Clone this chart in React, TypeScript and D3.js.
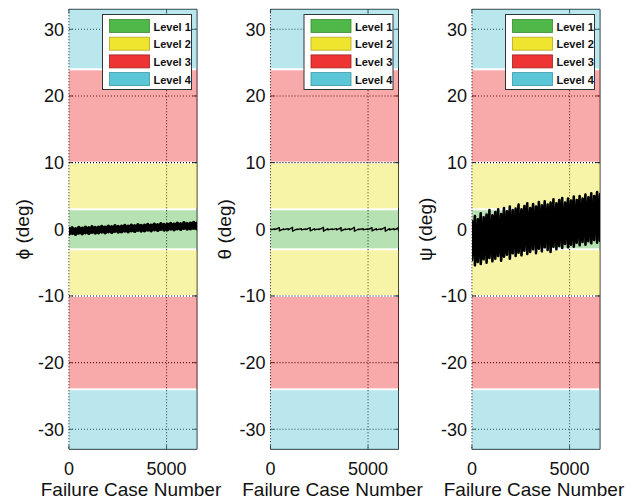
import React from "react";
import * as d3 from "d3";

const W = 640;
const H = 502;

const yTicks = [-30, -20, -10, 0, 10, 20, 30];
const xTicks = [0, 5000];
const xMax = 6561;
const yDomain = [-33, 33];

const levelNames = ["Level 1", "Level 2", "Level 3", "Level 4"];
const levelColors = ["#50b848", "#efe52e", "#ef3434", "#5ac6d6"];
const levelStrokes = ["#3a8a34", "#b0a820", "#a02020", "#3a98a8"];
// band limits (deg): [lo, hi, level index]
const bandLo = [-3, 3, -10, 10, -24, 24, -33];
const bandHi = [3, 10, -3, 24, -10, 33, -24];
const bandLevel = [0, 1, 1, 2, 2, 3, 3];

const panelLabels = ["ϕ (deg)", "θ (deg)", "ψ (deg)"];

const phiUpper = [0.1, 0.2, 0.05, 0.25, 0.15, 0.3, 0.2, 0.35, 0.25, 0.3, 0.4, 0.3, 0.45, 0.35, 0.5, 0.4, 0.45, 0.55, 0.45, 0.6, 0.5, 0.65, 0.55, 0.6, 0.7, 0.6, 0.75, 0.65, 0.8, 0.7, 0.75, 0.85, 0.75, 0.9, 0.8, 0.95, 0.85, 0.9, 1.0, 0.9];
const phiLower = [-0.7, -0.6, -0.75, -0.55, -0.65, -0.5, -0.6, -0.45, -0.55, -0.5, -0.4, -0.5, -0.35, -0.45, -0.3, -0.4, -0.35, -0.25, -0.35, -0.2, -0.3, -0.15, -0.25, -0.2, -0.1, -0.2, -0.05, -0.15, 0.0, -0.1, -0.05, 0.05, -0.05, 0.1, 0.0, 0.15, 0.05, 0.1, 0.2, 0.1];

const thetaUpper = [0.1, 0.05, 0.25, 0.05, 0.1, 0.3, 0.05, 0.1, 0.05, 0.25, 0.1, 0.05, 0.3, 0.1, 0.05, 0.1, 0.25, 0.05, 0.1, 0.3, 0.05, 0.1, 0.05, 0.25, 0.1, 0.05, 0.3, 0.1, 0.1, 0.25];
const thetaLower = [-0.1, -0.05, -0.25, -0.05, -0.1, -0.3, -0.05, -0.1, -0.05, -0.25, -0.1, -0.05, -0.3, -0.1, -0.05, -0.1, -0.25, -0.05, -0.1, -0.3, -0.05, -0.1, -0.05, -0.25, -0.1, -0.05, -0.3, -0.1, -0.1, -0.25];

const psiUpper = [1.2, 2.0, 1.5, 2.4, 1.8, 2.2, 2.9, 2.1, 2.6, 3.0, 2.3, 3.2, 2.7, 3.4, 2.9, 3.1, 3.7, 3.0, 3.5, 3.9, 3.2, 3.8, 3.4, 4.1, 3.6, 4.2, 3.7, 4.0, 4.5, 3.9, 4.4, 4.7, 4.0, 4.6, 4.3, 4.9, 4.4, 5.0, 4.6, 5.2, 4.8, 5.4, 5.0, 5.6, 5.3];
const psiLower = [-4.6, -5.4, -4.9, -5.2, -4.5, -5.0, -4.3, -4.8, -4.4, -4.0, -4.7, -4.1, -3.8, -4.4, -3.6, -4.0, -3.5, -3.9, -3.2, -3.7, -3.4, -3.0, -3.6, -2.9, -3.3, -2.7, -3.1, -3.4, -2.6, -3.0, -2.5, -2.8, -2.2, -2.7, -2.3, -2.6, -2.0, -2.4, -1.9, -2.3, -1.8, -2.1, -1.6, -2.0, -1.7];

const seriesUpper = [phiUpper, thetaUpper, psiUpper];
const seriesLower = [phiLower, thetaLower, psiLower];
const seriesWidth = [3.6, 1.3, 2.6];

const panelX = [69, 270.5, 472];
const panelW = 128;
const top = 9.3;
const bottom = 449.3;
const FONT = "'Liberation Sans', Arial, Helvetica, sans-serif";

function Panel({ idx }: { idx: number }) {
  const x0 = panelX[idx];
  const x = d3.scaleLinear().domain([0, xMax]).range([x0, x0 + panelW]);
  const y = d3.scaleLinear().domain(yDomain).range([bottom, top]);
  const up = seriesUpper[idx];
  const lo = seriesLower[idx];
  const pts: [number, number][] = [];
  up.forEach((u, i) => {
    const xv = (i / (up.length - 1)) * xMax;
    pts.push([xv, u]);
    pts.push([xv, lo[i]]);
  });
  const line = d3
    .line<[number, number]>()
    .x((d) => x(d[0]))
    .y((d) => y(d[1]));
  const grid = "#000";
  const lx = x0 + 33.5;
  const ly = 14.5;
  return (
    <g>
      <defs>
        <clipPath id={"clip" + idx}>
          <rect x={x0} y={top} width={panelW} height={bottom - top} />
        </clipPath>
      </defs>
      {/* grid + frame (under translucent bands) */}
      {yTicks.map((t) => (
        <line key={"gy" + t} x1={x0} x2={x0 + panelW} y1={y(t)} y2={y(t)} stroke={grid} strokeWidth={1.1} strokeDasharray="1,2" />
      ))}
      {xTicks.map((t) => (
        <line key={"gx" + t} x1={x(t)} x2={x(t)} y1={top} y2={bottom} stroke={grid} strokeWidth={1.1} strokeDasharray="1,2" />
      ))}
      <line x1={x0} x2={x0 + panelW} y1={top} y2={top} stroke="#222" />
      <line x1={x0} x2={x0 + panelW} y1={bottom} y2={bottom} stroke="#222" />
      <line x1={x0 + panelW} x2={x0 + panelW} y1={top} y2={bottom} stroke="#222" />
      {yTicks.map((t) => (
        <g key={"ty" + t}>
          <line x1={x0} x2={x0 + 4} y1={y(t)} y2={y(t)} stroke="#222" />
          <line x1={x0 + panelW - 4} x2={x0 + panelW} y1={y(t)} y2={y(t)} stroke="#222" />
        </g>
      ))}
      {xTicks.map((t) => (
        <g key={"tx" + t}>
          <line x1={x(t)} x2={x(t)} y1={bottom} y2={bottom - 4} stroke="#222" />
          <line x1={x(t)} x2={x(t)} y1={top} y2={top + 4} stroke="#222" />
        </g>
      ))}
      {/* bands */}
      {bandLo.map((l, i) => (
        <rect
          key={"b" + i}
          x={x0}
          width={panelW}
          y={y(bandHi[i]) + (bandHi[i] === 33 ? 0 : 1)}
          height={y(l) - y(bandHi[i]) - (bandHi[i] === 33 || l === -33 ? 1 : 2)}
          fill={levelColors[bandLevel[i]]}
          fillOpacity={0.42}
        />
      ))}
      {/* data */}
      <path
        d={line(pts) || ""}
        fill="none"
        stroke="#000"
        strokeWidth={seriesWidth[idx]}
        strokeLinejoin="round"
        strokeLinecap="round"
        clipPath={`url(#clip${idx})`}
      />
      {/* tick labels */}
      {yTicks.map((t) => (
        <text key={"ly" + t} x={x0 - 5} y={y(t) + 6.5} textAnchor="end" fontSize={18} fontFamily={FONT} fill="#111">
          {t}
        </text>
      ))}
      {xTicks.map((t) => (
        <text key={"lx" + t} x={x(t)} y={475} textAnchor="middle" fontSize={18} fontFamily={FONT} fill="#111">
          {t}
        </text>
      ))}
      <text x={x0 + panelW / 2 - 2} y={496} textAnchor="middle" fontSize={19} fontFamily={FONT} fill="#111">
        Failure Case Number
      </text>
      <text
        transform={`translate(${x0 - 40},${(top + bottom) / 2}) rotate(-90)`}
        textAnchor="middle"
        fontSize={19}
        fontFamily={FONT}
        fill="#111"
      >
        {panelLabels[idx]}
      </text>
      {/* legend */}
      <rect x={lx} y={ly} width={89} height={75} fill="#fff" stroke="#333" strokeWidth={1} />
      {levelNames.map((n, i) => (
        <g key={n}>
          <rect x={lx + 7} y={ly + 5 + i * 17.7} width={40} height={13} fill={levelColors[i]} stroke={levelStrokes[i]} strokeWidth={0.8} />
          <text x={lx + 51} y={ly + 16 + i * 17.7} fontSize={11} fontFamily={FONT} fill="#111" fontWeight={600}>
            {n}
          </text>
        </g>
      ))}
    </g>
  );
}

export default function App() {
  return (
    <svg width={W} height={H} style={{ display: "block", position: "absolute", left: 0, top: 0, background: "#fff" }}>
      <rect width={W} height={H} fill="#fff" />
      {[0, 1, 2].map((i) => (
        <Panel key={i} idx={i} />
      ))}
    </svg>
  );
}
